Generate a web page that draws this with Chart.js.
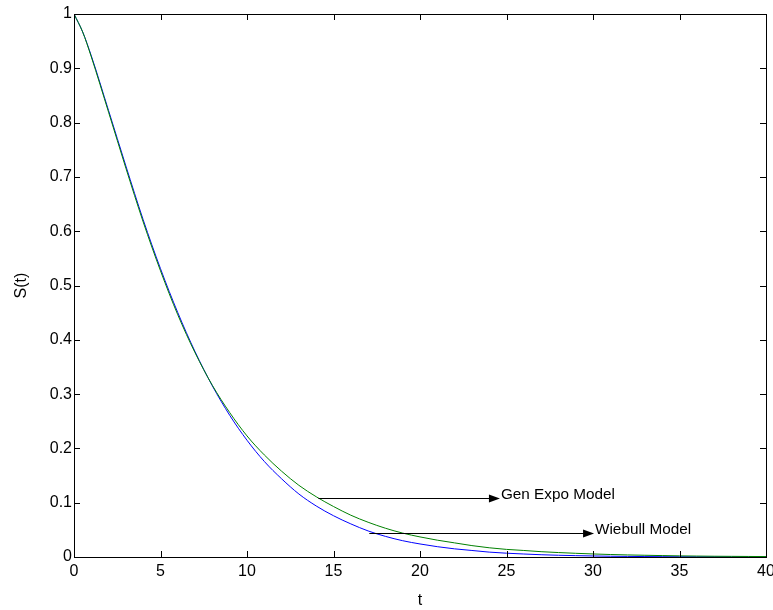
<!DOCTYPE html>
<html>
<head>
<meta charset="utf-8">
<script src="https://cdn.jsdelivr.net/npm/chart.js@4.4.0/dist/chart.umd.min.js"></script>
<style>
  body { margin: 0; background: #fff; }
  #wrap { width: 773px; height: 610px; }
</style>
</head>
<body>
<div id="wrap"><canvas id="chart" width="773" height="610"></canvas></div>
<script>
// values
var tValues = [0, 0.5, 1, 2, 3, 4, 5, 6, 7, 8, 9, 10, 11, 12, 13, 14, 15, 16, 17, 18, 19, 20,
  21, 22, 23, 24, 25, 26, 27, 28, 29, 30, 31, 32, 33, 34, 35, 36, 37, 38, 39, 40];
var weibullS = [1, 0.967, 0.923, 0.822, 0.720, 0.621, 0.531, 0.450, 0.378, 0.315, 0.261, 0.215,
  0.176, 0.144, 0.116, 0.094, 0.076, 0.061, 0.048, 0.038, 0.030, 0.024, 0.019, 0.015, 0.012,
  0.009, 0.007, 0.0055, 0.0042, 0.0032, 0.0025, 0.0019, 0.0014, 0.0011, 0.0008, 0.0006, 0.0005,
  0.0004, 0.0003, 0.0002, 0.0002, 0.0001];
var genExpoS = [1, 0.967, 0.921, 0.819, 0.716, 0.617, 0.527, 0.446, 0.376, 0.316, 0.266, 0.223,
  0.188, 0.158, 0.132, 0.111, 0.093, 0.077, 0.064, 0.053, 0.044, 0.037, 0.031, 0.026, 0.021,
  0.017, 0.014, 0.012, 0.0098, 0.0082, 0.0068, 0.0056, 0.0046, 0.0038, 0.0032, 0.0026, 0.0021,
  0.0017, 0.0014, 0.0012, 0.0010, 0.0008];
var xTicks = [0, 5, 10, 15, 20, 25, 30, 35, 40];
var yTicks = [0, 0.1, 0.2, 0.3, 0.4, 0.5, 0.6, 0.7, 0.8, 0.9, 1];
var yTickLabels = ['0', '0.1', '0.2', '0.3', '0.4', '0.5', '0.6', '0.7', '0.8', '0.9', '1'];
var arrowLabels = ['Gen Expo Model', 'Wiebull Model'];
var arrowFromT = [14.13, 17.07];
var arrowToT = [24.62, 30.06];
var arrowS = [0.108, 0.0448];

var FONT = '"Liberation Sans", Arial, Helvetica, sans-serif';

function toPoints(ys) {
  return tValues.map(function (t, i) { return { x: t, y: ys[i] }; });
}

// inward MATLAB style ticks, box and the two text arrows
var matlabAxes = {
  id: 'matlabAxes',
  afterDraw: function (chart) {
    var ctx = chart.ctx, a = chart.chartArea;
    var xs = chart.scales.x, ys = chart.scales.y;
    var len = 6;
    ctx.save();
    ctx.strokeStyle = '#000';
    ctx.lineWidth = 1;
    ctx.beginPath();
    xTicks.forEach(function (v) {
      var px = Math.round(xs.getPixelForValue(v)) + 0.5;
      ctx.moveTo(px, a.bottom); ctx.lineTo(px, a.bottom - len);
      ctx.moveTo(px, a.top); ctx.lineTo(px, a.top + len);
    });
    yTicks.forEach(function (v) {
      var py = Math.round(ys.getPixelForValue(v)) + 0.5;
      ctx.moveTo(a.left, py); ctx.lineTo(a.left + len, py);
      ctx.moveTo(a.right, py); ctx.lineTo(a.right - len, py);
    });
    ctx.stroke();
    ctx.strokeRect(Math.round(a.left) + 0.5, Math.round(a.top) + 0.5,
      Math.round(a.right - a.left), Math.round(a.bottom - a.top));

    ctx.fillStyle = '#000';
    ctx.font = '15.3px ' + FONT;
    ctx.textBaseline = 'alphabetic';
    ctx.textAlign = 'left';
    arrowLabels.forEach(function (label, i) {
      var x0 = xs.getPixelForValue(arrowFromT[i]);
      var x1 = xs.getPixelForValue(arrowToT[i]);
      var y = Math.round(ys.getPixelForValue(arrowS[i])) + 0.5;
      ctx.beginPath();
      ctx.moveTo(x0, y); ctx.lineTo(x1 - 10, y);
      ctx.stroke();
      ctx.beginPath();
      ctx.moveTo(x1, y);
      ctx.lineTo(x1 - 11, y - 4);
      ctx.lineTo(x1 - 11, y + 4);
      ctx.closePath();
      ctx.fill();
      ctx.fillText(label, x1 + 1, y);
    });
    ctx.restore();
  }
};

new Chart(document.getElementById('chart'), {
  type: 'line',
  data: {
    datasets: [{
      label: 'Gen Expo Model',
      data: toPoints(genExpoS),
      borderColor: '#008000',
      borderWidth: 1,
      pointRadius: 0,
      cubicInterpolationMode: 'monotone',
      fill: false
    }, {
      label: 'Wiebull Model',
      data: toPoints(weibullS),
      borderColor: '#0000ff',
      borderWidth: 1,
      pointRadius: 0,
      cubicInterpolationMode: 'monotone',
      fill: false
    }]
  },
  options: {
    responsive: false,
    animation: false,
    events: [],
    layout: { padding: { left: 0, top: 14, right: 7, bottom: 0 } },
    plugins: { legend: { display: false }, tooltip: { enabled: false } },
    scales: {
      x: {
        type: 'linear',
        min: 0,
        max: 40,
        grid: { display: false, drawTicks: false },
        border: { display: false },
        afterBuildTicks: function (s) { s.ticks = xTicks.map(function (v) { return { value: v }; }); },
        afterFit: function (s) { s.height = 53; s.paddingLeft = 0; s.paddingRight = 0; },
        ticks: { color: '#000', padding: 5, maxRotation: 0, font: { family: FONT, size: 16 } },
        title: { display: true, text: 't', color: '#000', padding: { top: 0, bottom: 0 },
          font: { family: FONT, size: 16 } }
      },
      y: {
        type: 'linear',
        min: 0,
        max: 1,
        grid: { display: false, drawTicks: false },
        border: { display: false },
        afterBuildTicks: function (s) { s.ticks = yTicks.map(function (v) { return { value: v }; }); },
        afterFit: function (s) { s.width = 74; s.paddingTop = 0; s.paddingBottom = 0; },
        ticks: {
          color: '#000', padding: 2, font: { family: FONT, size: 16 },
          callback: function (v) { return yTickLabels[yTicks.indexOf(v)]; }
        },
        title: { display: true, text: 'S(t)', color: '#000', padding: { top: 12, bottom: 0 },
          font: { family: FONT, size: 16 } }
      }
    }
  },
  plugins: [matlabAxes]
});
</script>
</body>
</html>
